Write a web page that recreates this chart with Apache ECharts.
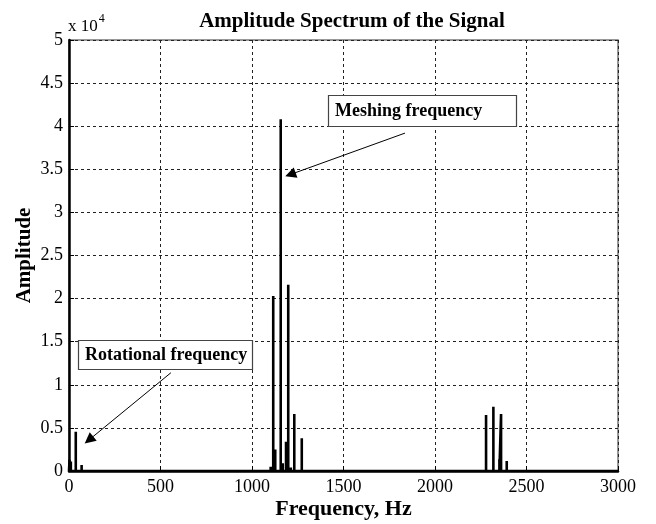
<!DOCTYPE html>
<html>
<head>
<meta charset="utf-8">
<script src="https://cdn.jsdelivr.net/npm/echarts@6/dist/echarts.min.js"></script>
<style>
html,body{margin:0;padding:0;background:#fff;}
#chart{width:656px;height:524px;}
</style>
</head>
<body>
<div id="chart"></div>
<script>
// Spectral peaks (Hz, amplitude)
var peakFreqs = [3, 10, 37, 69, 1102, 1116, 1127, 1157, 1168, 1186, 1198, 1212, 1231, 1272, 2279, 2319, 2352, 2361, 2392];
var peakAmps  = [1300, 1100, 4560, 700, 500, 20300, 2500, 40800, 900, 3400, 21600, 400, 6600, 3800, 6500, 7450, 1350, 6600, 1150];
var yTicks = [0, 5000, 10000, 15000, 20000, 25000, 30000, 35000, 40000, 45000, 50000];
var xTicks = [0, 500, 1000, 1500, 2000, 2500, 3000];
var annotations = [
  {text: 'Meshing frequency', from: [1836, 39200], to: [1210, 34400]},
  {text: 'Rotational frequency', from: [557, 11400], to: [109, 3600]}
];

var stem = [[0, 0]];
for (var i = 0; i < peakFreqs.length; i++) {
  stem.push([peakFreqs[i], 0], [peakFreqs[i], peakAmps[i]], [peakFreqs[i], 0]);
}
stem.push([3000, 0]);

var serif = '"Liberation Serif", "DejaVu Serif", serif';
var chart = echarts.init(document.getElementById('chart'));
chart.setOption({
  backgroundColor: '#fff',
  animation: false,
  title: {
    text: 'Amplitude Spectrum of the Signal',
    left: 347, textAlign: 'center', top: 6,
    textStyle: {fontFamily: serif, fontSize: 21, fontWeight: 'bold', color: '#000'}
  },
  grid: {left: 69, right: 38, top: 40, bottom: 53, outerBoundsMode: 'none', containLabel: false,
    show: true, borderColor: '#777', borderWidth: 1.5, backgroundColor: 'transparent'},
  xAxis: {
    type: 'value', min: xTicks[0], max: xTicks[xTicks.length - 1], interval: 500,
    name: 'Frequency, Hz', nameLocation: 'middle', nameGap: 27, nameMoveOverlap: false,
    nameTextStyle: {fontFamily: serif, fontSize: 22, fontWeight: 'bold', color: '#000'},
    axisLine: {show: true, onZero: false, lineStyle: {color: '#000', width: 2.5}},
    axisTick: {show: true, inside: true, length: 5, lineStyle: {color: '#000'}},
    axisLabel: {fontFamily: serif, fontSize: 18, color: '#000', margin: 7,
      formatter: function (v) { return String(v); }},
    splitLine: {show: true, lineStyle: {color: '#222', type: [3, 3], width: 1}}
  },
  yAxis: {
    type: 'value', min: yTicks[0], max: yTicks[yTicks.length - 1], interval: 5000,
    name: 'Amplitude', nameLocation: 'middle', nameGap: 34, nameRotate: 90, nameMoveOverlap: false,
    nameTextStyle: {fontFamily: serif, fontSize: 21, fontWeight: 'bold', color: '#000'},
    axisLine: {show: true, lineStyle: {color: '#000', width: 2.5}},
    axisTick: {show: true, inside: true, length: 5, lineStyle: {color: '#000'}},
    axisLabel: {fontFamily: serif, fontSize: 18, color: '#000', margin: 6,
      formatter: function (v) { return String(v / 10000); }},
    splitLine: {show: true, lineStyle: {color: '#222', type: [3, 3], width: 1}}
  },
  series: [{
    type: 'line', data: stem, symbol: 'none', z: 5,
    lineStyle: {color: '#000', width: 2.6},
    markLine: {
      silent: true, symbol: ['none', 'triangle'], symbolSize: 11,
      label: {show: false},
      lineStyle: {color: '#000', width: 1, type: 'solid'},
      itemStyle: {color: '#000'},
      data: annotations.map(function (a) {
        return [{coord: a.from}, {coord: a.to}];
      })
    }
  }],
  graphic: [
    {type: 'text', left: 68, top: 13, style: {
      text: '{a|x 10}{b|4}', fill: '#000',
      rich: {a: {fontFamily: serif, fontSize: 17, verticalAlign: 'bottom'}, b: {fontFamily: serif, fontSize: 12, verticalAlign: 'top', padding: [0, 0, 10, 1]}}
    }},
    {type: 'rect', shape: {x: 328.5, y: 95.5, width: 188, height: 31}, style: {fill: '#fff', stroke: '#444', lineWidth: 1.2}, z: 10},
    {type: 'text', x: 335, y: 111, style: {text: annotations[0].text, fontFamily: serif, fontSize: 18, fontWeight: 'bold', fill: '#000', verticalAlign: 'middle'}, z: 11},
    {type: 'rect', shape: {x: 78.5, y: 340.5, width: 174, height: 29}, style: {fill: '#fff', stroke: '#444', lineWidth: 1.2}, z: 10},
    {type: 'text', x: 85, y: 355, style: {text: annotations[1].text, fontFamily: serif, fontSize: 18, fontWeight: 'bold', fill: '#000', verticalAlign: 'middle'}, z: 11}
  ]
});
</script>
</body>
</html>
